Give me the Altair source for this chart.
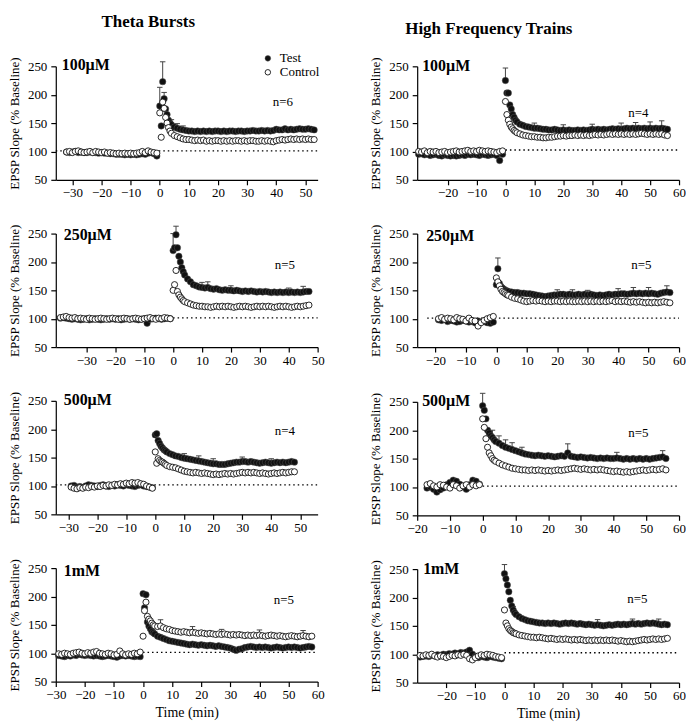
import altair as alt
import pandas as pd

SERIF = "Liberation Serif"
EARLY = [0, 0.5, 1, 1.5, 2, 2.5, 3, 3.5]   # first post-induction sample times (min); later samples every minute

# ---------------- Theta Bursts, 100 uM ----------------
P1_BASE_TEST = [99, 98, 99, 100, 98, 99, 98, 98, 99, 98, 98, 97, 98, 97, 97, 96, 96, 95, 95, 95,
                94, 95, 94, 95, 94, 95, 96, 95, 97, 98, 96, 92]
P1_BASE_CTRL = [99, 100, 98, 100, 101, 99, 98, 99, 100, 98, 100, 99, 98, 99, 97, 98, 97, 96, 97, 96,
                97, 96, 97, 96, 97, 98, 100, 98, 101, 99, 98, 97]
P1_POST_TEST = [180, 145, 223, 193, 175, 165, 155, 150,
                147, 143, 141, 139, 138, 137, 136, 136, 135, 136,
                135, 136, 135, 136, 135, 136, 136, 135, 136, 135,
                136, 136, 135, 136, 136, 135, 136, 136, 137, 136,
                136, 137, 136, 137, 136, 137, 139, 138, 138, 140,
                138, 139, 138, 139, 140, 139, 139, 140, 139, 138]
P1_POST_CTRL = [168, 125, 187, 176, 160, 150, 142, 136,
                132, 128, 126, 124, 122, 121, 121, 120, 119, 120,
                119, 120, 118, 119, 118, 119, 119, 118, 119, 118,
                119, 118, 119, 119, 118, 119, 118, 119, 119, 118,
                118, 119, 118, 119, 118, 117, 119, 120, 121, 120,
                121, 122, 121, 122, 121, 122, 121, 122, 121, 121]
P1_ERR = [(1, 223, 258), (0, 168, 213), (1.5, 193, 204), (4, 147, 156), (6, 141, 149), (8, 138, 145)]

# ---------------- High Frequency Trains, 100 uM ----------------
P2_BASE_TEST = [95, 96, 94, 95, 93, 94, 95, 93, 92, 94, 93, 92, 93, 92, 93, 94, 93, 95, 94, 95,
                94, 93, 95, 94, 93, 94, 95, 93, 84, 95]
P2_BASE_CTRL = [100, 99, 101, 98, 100, 99, 100, 98, 99, 100, 98, 99, 100, 101, 99, 100, 101, 102, 100, 101,
                100, 102, 101, 100, 101, 100, 99, 98, 100, 101]
P2_POST_TEST = [225, 203, 203, 182, 175, 165, 160, 155,
                152, 148, 146, 144, 143, 142, 141, 141, 140, 139,
                139, 138, 138, 139, 138, 137, 138, 137, 138, 137,
                137, 138, 137, 138, 137, 138, 139, 138, 139, 138,
                139, 138, 139, 140, 139, 140, 139, 140, 141, 140,
                141, 140, 141, 140, 141, 140, 141, 140, 141, 140,
                141, 140, 139]
P2_POST_CTRL = [188, 165, 155, 148, 143, 140, 137, 135,
                133, 131, 129, 128, 127, 126, 126, 125, 125, 124,
                124, 125, 125, 126, 127, 127, 128, 127, 128, 128,
                129, 128, 129, 128, 129, 128, 129, 130, 129, 130,
                129, 130, 131, 130, 131, 130, 131, 130, 131, 130,
                131, 130, 131, 132, 131, 130, 131, 130, 131, 130,
                131, 129, 128]
P2_ERR = [(0, 225, 247), (10, 141, 150), (20, 138, 147), (30, 139, 148), (40, 139, 150),
          (45, 140, 151), (50, 141, 152), (54, 141, 154)]

# ---------------- Theta Bursts, 250 uM ----------------
P3_BASE_TEST = [101, 102, 101, 100, 99, 100, 99, 98, 99, 100,
                98, 99, 100, 99, 98, 99, 100, 99, 100, 99,
                100, 98, 99, 100, 99, 100, 99, 98, 99, 100,
                92, 99, 100, 101, 100, 99, 100, 101, 100]
P3_BASE_CTRL = [102, 103, 104, 102, 101, 102, 100, 101, 100, 99,
                101, 100, 99, 100, 101, 100, 99, 100, 101, 100,
                99, 100, 101, 100, 99, 100, 101, 100, 99, 100,
                101, 102, 100, 99, 101, 100, 102, 101, 100]
P3_POST_TEST = [220, 225, 248, 225, 210, 200, 190, 183,
                177, 170, 165, 160, 158, 156, 155, 154, 155, 153,
                152, 153, 151, 150, 151, 150, 150, 149, 150, 149,
                148, 149, 148, 149, 148, 147, 148, 147, 148, 147,
                146, 147, 146, 147, 146, 147, 146, 147, 146, 147,
                146, 147, 148, 148]
P3_POST_CTRL = [150, 160, 185, 148, 142, 138, 135, 132,
                130, 128, 126, 124, 123, 122, 122, 121, 121, 120,
                121, 122, 121, 122, 121, 122, 121, 120, 121, 122,
                121, 122, 121, 120, 121, 122, 121, 122, 121, 122,
                121, 120, 121, 122, 121, 122, 121, 120, 121, 122,
                121, 122, 123, 124]
P3_ERR = [(1, 248, 263), (0, 220, 250), (10, 155, 164), (12, 155, 165), (20, 150, 158),
          (40, 146, 154), (45, 147, 157)]

# ---------------- High Frequency Trains, 250 uM ----------------
P4_BASE_TEST = [98, 97, 99, 95, 97, 96, 94, 95, 97, 96, 94, 95, 93, 96, 94, 95, 93, 92, 94]
P4_BASE_CTRL = [100, 102, 99, 101, 100, 98, 102, 100, 99, 96, 101, 97, 96, 87, 93, 97, 100, 102, 104]
P4_POST_TEST = [160, 188, 162, 157, 154, 152, 150, 149,
                148, 147, 146, 146, 145, 145, 144, 144, 143, 142,
                141, 140, 139, 140, 141, 142, 142, 143, 143, 142,
                143, 142, 142, 143, 142, 143, 142, 143, 142, 141,
                142, 141, 142, 143, 142, 143, 143, 144, 144, 143,
                144, 145, 144, 145, 144, 145, 144, 145, 144, 143,
                145, 146, 147, 146]
P4_POST_CTRL = [172, 165, 158, 152, 148, 146, 144, 142,
                141, 138, 136, 135, 133, 131, 130, 131, 132, 131,
                132, 131, 130, 131, 130, 131, 131, 130, 131, 130,
                131, 130, 130, 131, 130, 131, 130, 131, 130, 131,
                130, 131, 130, 131, 132, 130, 131, 130, 131, 130,
                129, 130, 129, 130, 129, 128, 129, 128, 129, 128,
                129, 130, 129, 128]
P4_ERR = [(0.5, 188, 207), (20, 142, 151), (25, 142, 151), (30, 142, 150), (40, 143, 153),
          (45, 145, 155), (50, 144, 155), (56, 147, 158)]

# ---------------- Theta Bursts, 500 uM ----------------
P5_BASE_TEST = [100, 101, 98, 99, 97, 100, 102, 101, 100, 99,
                101, 102, 100, 99, 101, 100, 102, 101, 100, 102,
                101, 100, 99, 101, 102, 100, 99, 98, 97]
P5_BASE_CTRL = [98, 96, 95, 97, 96, 98, 97, 99, 98, 100,
                99, 101, 100, 102, 101, 103, 102, 104, 103, 105,
                104, 106, 105, 106, 104, 103, 100, 98, 96]
P5_POST_TEST = [190, 192, 180, 175, 170, 167, 164, 162,
                160, 157, 155, 153, 152, 150, 149, 148, 147, 146,
                145, 144, 143, 142, 141, 140, 139, 139, 138, 138,
                138, 139, 140, 141, 142, 142, 143, 143, 142, 143,
                142, 141, 140, 141, 142, 141, 140, 141, 142, 141,
                142, 141, 142, 143, 142]
P5_POST_CTRL = [160, 140, 148, 145, 143, 142, 140, 138,
                136, 134, 133, 132, 130, 128, 126, 125, 124, 123,
                124, 123, 122, 123, 122, 121, 120, 121, 120, 121,
                122, 121, 122, 121, 122, 123, 124, 123, 124, 123,
                124, 123, 122, 123, 122, 121, 122, 123, 122, 123,
                124, 123, 124, 125, 125]
P5_ERR = [(10, 149, 157), (15, 144, 153), (20, 139, 148), (30, 143, 151), (40, 140, 148)]

# ---------------- High Frequency Trains, 500 uM ----------------
P6_BASE_TEST = [98, 100, 96, 91, 95, 98, 104, 108, 112, 110, 105, 100, 96, 104, 112, 110, 105]
P6_BASE_CTRL = [104, 106, 102, 100, 104, 103, 100, 98, 104, 102, 98, 102, 104, 100, 104, 102, 104]
P6_POST_TEST = [243, 235, 220, 200, 195, 190, 187, 183,
                180, 177, 173, 170, 168, 166, 164, 162, 160, 158,
                157, 156, 155, 156, 155, 154, 155, 154, 153, 154,
                155, 154, 160, 154, 153, 152, 153, 152, 151, 152,
                151, 150, 151, 150, 151, 150, 150, 151, 150, 149,
                150, 149, 150, 149, 150, 149, 150, 149, 150, 151,
                152, 153, 150]
P6_POST_CTRL = [220, 205, 185, 170, 160, 155, 150, 147,
                145, 142, 139, 137, 135, 133, 132, 131, 130, 130,
                129, 130, 129, 130, 129, 128, 129, 128, 129, 130,
                129, 130, 131, 132, 133, 132, 131, 132, 131, 130,
                131, 130, 131, 130, 129, 128, 127, 128, 127, 126,
                127, 126, 127, 128, 129, 130, 129, 130, 131, 130,
                131, 132, 130]
P6_ERR = [(0, 243, 265), (3, 187, 200), (5, 177, 190), (7, 170, 183), (9, 166, 178),
          (12, 160, 170), (26, 160, 176), (41, 151, 161), (55, 153, 164)]

# ---------------- Theta Bursts, 1 mM ----------------
P7_BASE_TEST = [96, 95, 94, 96, 95, 97, 96, 98, 97, 96,
                97, 96, 95, 96, 95, 94, 95, 96, 95, 94,
                93, 95, 96, 95, 96, 95, 94, 95, 94]
P7_BASE_CTRL = [99, 98, 100, 99, 98, 100, 101, 102, 100, 99,
                101, 100, 102, 103, 100, 99, 98, 100, 99, 97,
                98, 104, 99, 97, 99, 98, 100, 99, 102]
P7_POST_TEST = [205, 180, 203, 155, 148, 143, 138, 136,
                134, 130, 128, 126, 124, 122, 121, 120, 119, 118,
                117, 116, 115, 116, 115, 114, 115, 114, 113, 114,
                113, 112, 113, 112, 111, 110, 109, 107, 105, 107,
                108, 110, 111, 112, 111, 110, 111, 110, 111, 110,
                109, 110, 111, 110, 109, 110, 111, 110, 111, 110,
                109, 110, 111, 112, 111]
P7_POST_CTRL = [130, 175, 190, 165, 160, 157, 153, 150,
                148, 147, 148, 145, 143, 142, 140, 139, 138, 137,
                138, 137, 136, 137, 136, 135, 136, 135, 134, 135,
                134, 133, 134, 133, 134, 133, 132, 133, 132, 133,
                132, 131, 132, 131, 132, 131, 132, 131, 130, 131,
                132, 131, 130, 131, 130, 129, 130, 131, 130, 129,
                130, 131, 130, 129, 130]
P7_ERR = [(6, 148, 159), (17, 137, 147), (27, 133, 142), (40, 132, 141), (55, 131, 140)]

# ---------------- High Frequency Trains, 1 mM ----------------
P8_BASE_TEST = [95, 96, 97, 96, 98, 97, 99, 98, 100, 99,
                101, 100, 102, 101, 103, 102, 104, 107, 100, 96,
                94, 96, 95, 94, 96, 95, 94, 93, 92]
P8_BASE_CTRL = [98, 97, 99, 98, 100, 97, 95, 97, 96, 94,
                96, 98, 97, 99, 98, 100, 98, 92, 90, 94,
                97, 99, 98, 100, 99, 98, 96, 95, 94]
P8_POST_TEST = [242, 233, 222, 210, 195, 185, 178, 173,
                170, 166, 163, 161, 159, 158, 157, 156, 155, 155,
                154, 155, 154, 155, 154, 153, 154, 155, 154, 155,
                154, 153, 154, 153, 152, 153, 152, 151, 152, 151,
                150, 151, 152, 151, 152, 153, 152, 153, 152, 153,
                154, 153, 154, 153, 154, 155, 154, 155, 154, 153,
                152, 153, 152]
P8_POST_CTRL = [178, 155, 150, 145, 142, 140, 138, 137,
                136, 134, 133, 132, 131, 130, 130, 129, 130, 129,
                128, 127, 128, 127, 126, 127, 126, 127, 126, 125,
                126, 125, 126, 125, 124, 125, 124, 125, 124, 125,
                124, 125, 124, 125, 124, 123, 124, 123, 122, 123,
                122, 123, 124, 125, 126, 125, 126, 127, 126, 127,
                126, 127, 128]
P8_ERR = [(0, 242, 258), (3, 178, 184), (32, 152, 161), (44, 154, 162), (53, 153, 162)]

TICKS_A = [-30, -20, -10, 0, 10, 20, 30, 40, 50]
TICKS_B = [-20, -10, 0, 10, 20, 30, 40, 50, 60]
TICKS_C = [-30, -20, -10, 0, 10, 20, 30, 40, 50, 60]
Y_TICKS = [50, 100, 150, 200, 250]

PANELS = [
    dict(bt=P1_BASE_TEST, bc=P1_BASE_CTRL, pt=P1_POST_TEST, pc=P1_POST_CTRL, err=P1_ERR,
         dom=(-35.7, 54.2), ticks=TICKS_A, dot=(-35.7, 54.2, 101), label="100µM", lab=(6, -1.5),
         n="n=6", npos=(218, 36)),
    dict(bt=P2_BASE_TEST, bc=P2_BASE_CTRL, pt=P2_POST_TEST, pc=P2_POST_CTRL, err=P2_ERR,
         dom=(-30.5, 60), ticks=TICKS_B, dot=(0, 60, 102.5), label="100µM", lab=(5, 0),
         n="n=4", npos=(212, 47)),
    dict(bt=P3_BASE_TEST, bc=P3_BASE_CTRL, pt=P3_POST_TEST, pc=P3_POST_CTRL, err=P3_ERR,
         dom=(-40.6, 50), ticks=TICKS_A, dot=(0, 50, 101.5), label="250µM", lab=(8, 1),
         n="n=5", npos=(220, 32)),
    dict(bt=P4_BASE_TEST, bc=P4_BASE_CTRL, pt=P4_POST_TEST, pc=P4_POST_CTRL, err=P4_ERR,
         dom=(-26, 60), ticks=TICKS_B, dot=(-22.7, 60, 101), label="250µM", lab=(9, 2.5),
         n="n=5", npos=(215, 32)),
    dict(bt=P5_BASE_TEST, bc=P5_BASE_CTRL, pt=P5_POST_TEST, pc=P5_POST_CTRL, err=P5_ERR,
         dom=(-34.3, 56), ticks=TICKS_A, dot=(-34.3, 56, 102), label="500µM", lab=(8, -1),
         n="n=4", npos=(220, 30)),
    dict(bt=P6_BASE_TEST, bc=P6_BASE_CTRL, pt=P6_POST_TEST, pc=P6_POST_CTRL, err=P6_ERR,
         dom=(-20, 60), ticks=TICKS_B, dot=(0, 60, 101.5), label="500µM", lab=(5, -1),
         n="n=5", npos=(212, 31)),
    dict(bt=P7_BASE_TEST, bc=P7_BASE_CTRL, pt=P7_POST_TEST, pc=P7_POST_CTRL, err=P7_ERR,
         dom=(-30, 60), ticks=TICKS_C, dot=(0, 60, 101.5), label="1mM", lab=(8, 3),
         n="n=5", npos=(219, 32)),
    dict(bt=P8_BASE_TEST, bc=P8_BASE_CTRL, pt=P8_POST_TEST, pc=P8_POST_CTRL, err=P8_ERR,
         dom=(-30, 60), ticks=TICKS_B, dot=(0, 60, 102.5), label="1mM", lab=(6, 0),
         n="n=5", npos=(211, 30)),
]

W, H = 263, 114
YTITLE = "EPSP Slope (% Baseline)"
ONE = pd.DataFrame({"k": [0]})
MS_TEST = 42
MS_CTRL = 38


def series(base, post):
    t = list(range(-len(base), 0)) + EARLY + list(range(4, 4 + len(post) - len(EARLY)))
    return pd.DataFrame({"t": t, "v": base + post})


def make_panel(p, bottom, title=None, legend=False):
    xs = alt.Scale(domain=list(p["dom"]), nice=False, zero=False)
    ys = alt.Scale(domain=[50, 250], nice=False, zero=False)
    xtitle = "Time (min)" if bottom else None
    xax = alt.Axis(values=p["ticks"], tickCount=30, labelFlush=False, labelOverlap=False)
    yax = alt.Axis(values=Y_TICKS, tickCount=30, labelFlush=False, labelOverlap=False)

    def X(f):
        return alt.X(f, scale=xs, axis=xax, title=xtitle)

    def Y(f):
        return alt.Y(f, scale=ys, axis=yax, title=YTITLE)

    test = series(p["bt"], p["pt"])
    ctrl = series(p["bc"], p["pc"])
    err = pd.DataFrame(p["err"], columns=["t", "y", "top"])
    x0, x1, yd = p["dot"]

    dotted = alt.Chart(ONE).mark_rule(color="black", strokeDash=[1.5, 3], strokeWidth=1.4).encode(
        x=alt.XDatum(datum=x0, type="quantitative"), x2=alt.X2Datum(datum=x1),
        y=alt.YDatum(datum=yd, type="quantitative"))
    bars = alt.Chart(err).mark_rule(color="#444", strokeWidth=1).encode(
        x=X("t:Q"), y=Y("y:Q"), y2="top:Q")
    caps = alt.Chart(err).mark_point(shape="M-1,0L1,0", size=30, filled=False, color="#444",
                                     strokeWidth=1, opacity=1).encode(x=X("t:Q"), y=Y("top:Q"))
    pts_test = alt.Chart(test).mark_point(shape="circle", filled=True, fill="#111", stroke="#555",
                                          strokeWidth=0.5, size=MS_TEST, opacity=1).encode(
        x=X("t:Q"), y=Y("v:Q"))
    pts_ctrl = alt.Chart(ctrl).mark_point(shape="circle", filled=True, fill="white", stroke="#111",
                                          strokeWidth=0.9, size=MS_CTRL, opacity=1).encode(
        x=X("t:Q"), y=Y("v:Q"))
    lab = alt.Chart(ONE).mark_text(text=p["label"], align="left", baseline="middle", font=SERIF,
                                   fontSize=16, fontWeight="bold", color="black").encode(
        x=alt.value(p["lab"][0]), y=alt.value(p["lab"][1]))
    ntxt = alt.Chart(ONE).mark_text(text=p["n"], align="left", baseline="middle", font=SERIF,
                                    fontSize=13, color="black").encode(
        x=alt.value(p["npos"][0]), y=alt.value(p["npos"][1]))
    layers = [dotted, bars, caps, pts_test, pts_ctrl, lab, ntxt]
    if legend:
        layers += [
            alt.Chart(ONE).mark_point(shape="circle", filled=True, fill="#111", stroke="#555",
                                      strokeWidth=0.5, size=32, opacity=1).encode(
                x=alt.value(213), y=alt.value(-8)),
            alt.Chart(ONE).mark_point(shape="circle", filled=True, fill="white", stroke="#111",
                                      strokeWidth=0.9, size=30, opacity=1).encode(
                x=alt.value(213), y=alt.value(6)),
            alt.Chart(ONE).mark_text(text="Test", align="left", baseline="middle", font=SERIF,
                                     fontSize=13, color="black").encode(
                x=alt.value(225), y=alt.value(-8)),
            alt.Chart(ONE).mark_text(text="Control", align="left", baseline="middle", font=SERIF,
                                     fontSize=13, color="black").encode(
                x=alt.value(225), y=alt.value(6)),
        ]
    ch = alt.layer(*layers).properties(width=W, height=H)
    if title is not None:
        ch = ch.properties(title=title)
    return ch


t_left = alt.TitleParams(text="Theta Bursts", font=SERIF, fontSize=17, fontWeight="bold",
                         color="black", anchor="start", frame="group", dx=46, offset=21)
t_right = alt.TitleParams(text="High Frequency Trains", font=SERIF, fontSize=17, fontWeight="bold",
                          color="black", anchor="start", frame="group", dx=-12, offset=19)

left = alt.vconcat(
    make_panel(PANELS[0], False, t_left, legend=True),
    make_panel(PANELS[2], False),
    make_panel(PANELS[4], False),
    make_panel(PANELS[6], True),
    spacing=24,
)
right = alt.vconcat(
    make_panel(PANELS[1], False, t_right),
    make_panel(PANELS[3], False),
    make_panel(PANELS[5], False),
    make_panel(PANELS[7], True),
    spacing=24,
)

chart = alt.hconcat(left, right, spacing=45).properties(
    padding={"left": 0, "top": 4, "right": 0, "bottom": 0}
).configure_axis(
    domainColor="black", domainWidth=1.2, tickColor="black", tickWidth=1.2, tickSize=5,
    labelFont=SERIF, labelFontSize=13, labelColor="black", labelPadding=2,
    titleFont=SERIF, titleFontSize=13, titleFontWeight="normal", titleColor="black", grid=False,
).configure_axisY(titlePadding=6, labelPadding=4).configure_axisX(
    titlePadding=4, titleFontSize=14
).configure_view(stroke=None)

chart.save("out.html", embed_options={"renderer": "svg", "actions": False})
